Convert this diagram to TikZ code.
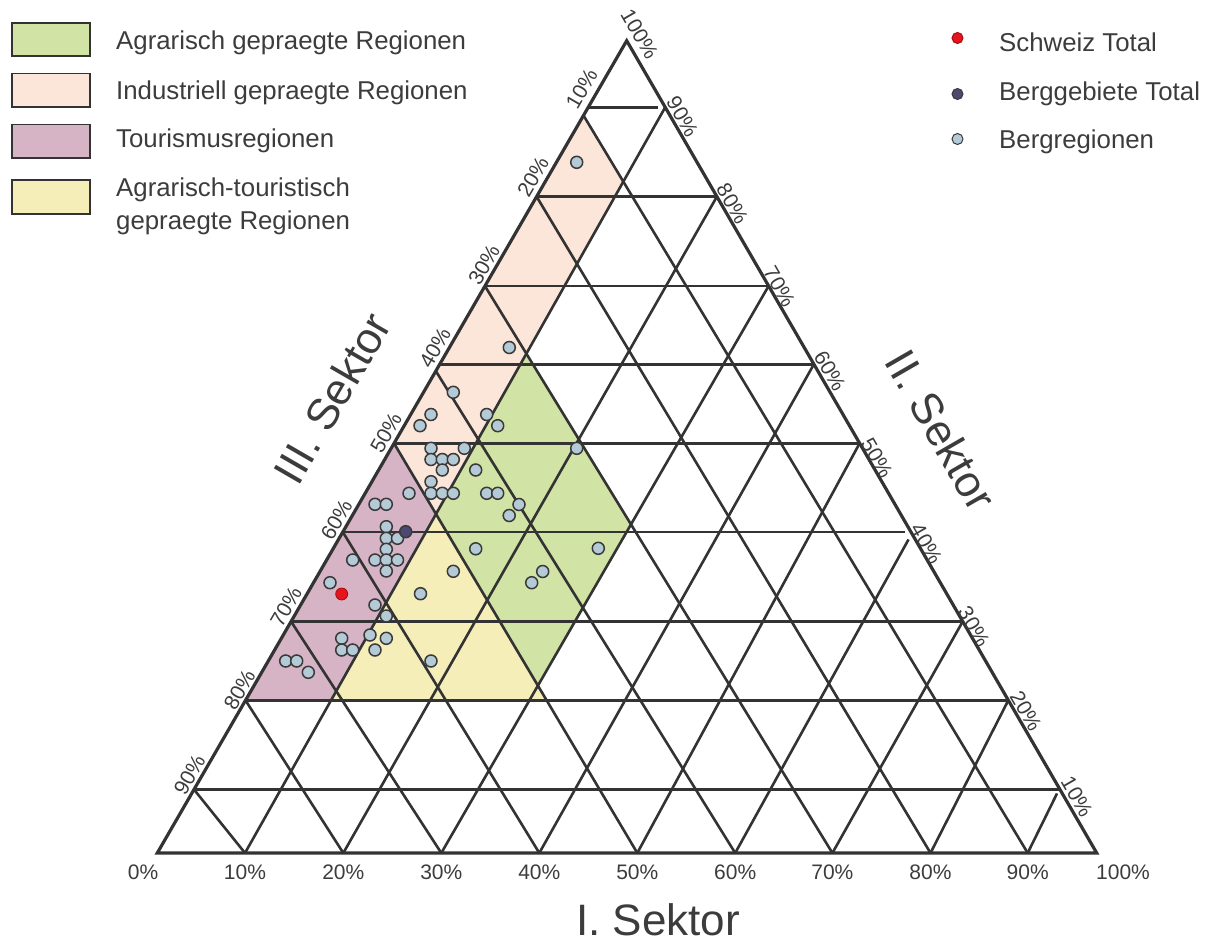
\documentclass[tikz,border=0pt]{standalone}
\usepackage{fontspec}
\setmainfont{Liberation Sans}
\definecolor{gridc}{HTML}{333333}
\definecolor{txtc}{HTML}{3C3C3C}
\definecolor{agr}{HTML}{D1E3A5}
\definecolor{ind}{HTML}{FCE6DA}
\definecolor{tou}{HTML}{D6B3C5}
\definecolor{agt}{HTML}{F5EEB9}
\definecolor{ptfill}{HTML}{B4CAD6}
\definecolor{ptline}{HTML}{3A3A3A}
\definecolor{chred}{HTML}{E8141C}
\definecolor{bgdark}{HTML}{4B4872}
\begin{document}
\begin{tikzpicture}[x=1pt,y=-1pt,
  gridline/.style={draw=gridc,line width=2.6pt,line cap=butt},
  edgeline/.style={draw=gridc,line width=3.2pt,line join=miter},
  pt/.style={circle,draw=ptline,fill=ptfill,line width=1.5pt,minimum size=12pt,inner sep=0pt},
  lbox/.style={draw=gridc,line width=1.8pt,minimum width=78.3pt,minimum height=33.5pt,inner sep=0pt},
  ltext/.style={text=txtc,font=\fontsize{25.8}{31}\selectfont,anchor=base west,inner sep=0pt},
  pct/.style={text=txtc,font=\fontsize{21}{24}\selectfont,inner sep=0pt},
  axt/.style={text=txtc,font=\fontsize{44}{50}\selectfont,inner sep=0pt},
  ldot/.style={circle,line width=1pt,minimum size=11pt,inner sep=0pt}]
\useasboundingbox (0,0) rectangle (1212,941);
% triangle corners and grid points
\coordinate (T) at (626.7,40.7);
\coordinate (B0) at (157.3,853);
\coordinate (B10) at (1096.7,853);
\foreach \i/\x in {1/245,2/343.3,3/441.3,4/539.3,5/637.3,6/735.2,7/832.4,8/930.5,9/1027.7}
  \coordinate (B\i) at (\x,853);
\foreach \i/\xl/\xr/\y in {1/194.0/1060.0/789.5,2/245.5/1008.3/700.3,3/291.1/962.7/621.5,
  4/342.8/911.0/532,5/394.0/859.6/443.3,6/439.7/813.9/364.2,7/484.9/768.6/286,
  8/536.6/716.9/196.6,9/588.2/665.2/107.3}{
  \coordinate (L\i) at (\xl,\y);
  \coordinate (R\i) at (\xr,\y);
}
\coordinate (L9s) at (583.5,115.5);
\coordinate (L6s) at (435.8,371);
\coordinate (H9e) at (658.3,107.3);
\coordinate (H4e) at (905,532);
\coordinate (U6e) at (908.5,539.5);
\coordinate (U9e) at (1057,793.5);
% region vertices
\coordinate (pA) at (intersection of L9s--B9 and B1--R9);
\coordinate (pB) at (intersection of B1--R9 and L5--B5);
\coordinate (pC) at (intersection of B1--R9 and L2--R2);
\coordinate (gA) at (intersection of B1--R9 and L7--B7);
\coordinate (gB) at (intersection of L7--B7 and B3--R7);
\coordinate (gC) at (intersection of B3--R7 and L5--B5);
\coordinate (yB) at (intersection of L5--B5 and L2--R2);
% fills
\fill[ind] (L9s) -- (pA) -- (pB) -- (L5) -- cycle;
\fill[tou] (L5) -- (pB) -- (pC) -- (L2) -- cycle;
\fill[agr] (gA) -- (gB) -- (gC) -- (pB) -- cycle;
\fill[agt] (pB) -- (yB) -- (pC) -- cycle;
% horizontal lines
\foreach \i in {1,2,3,5,6,7,8} \draw[gridline] (L\i) -- (R\i);
\draw[gridline] (L4) -- (H4e);
\draw[gridline] (L9) -- (H9e);
% down-right lines
\foreach \i in {1,2,3,4,5,7,8} \draw[gridline] (L\i) -- (B\i);
\draw[gridline] (L6s) -- (B6);
\draw[gridline] (L9s) -- (B9);
% up-right lines
\foreach \i/\j in {1/9,2/8,3/7,4/6,5/5,7/3,8/2} \draw[gridline] (B\i) -- (R\j);
\draw[gridline] (B6) -- (U6e);
\draw[gridline] (B9) -- (U9e);
% outline
\draw[edgeline] (B0) -- (T) -- (B10) -- cycle;
% data points
\foreach \x/\y [count=\i] in {576.7/162.3, 509.3/347.5, 453.3/392.3, 431/414.5, 420/425.7,
  486.7/414.5, 497.7/425.7, 431/448.3, 464.3/448.3, 576.7/448.3, 431/459.5, 442.3/459.5,
  453.3/459.5, 442.3/470, 475.7/470, 431/481.7, 409/493.3, 431/493.3, 442.3/493.3,
  453.3/493.3, 486.7/493.3, 497.7/493.3, 519/504.5, 509.2/515.5, 375/504.3, 386.3/504.3,
  386.3/526.7, 386.3/538.3, 397.5/538.3, 386.3/549.3, 475.7/548.8, 598.3/548.3, 352.7/560,
  375/560, 386.3/560, 397.5/560, 386.3/571, 453.3/571.3, 542.7/571.5, 531.7/582.7,
  330/582.7, 420.5/593.7, 375/605, 386.3/616, 370/635, 341.7/638.3, 386.3/638.3,
  341.7/650, 352.7/650, 375/650, 285.7/661, 296.7/661, 308.3/672.3, 431/661}
  \node[pt] (p\i) at (\x,\y) {};
\node[pt,fill=bgdark] (pberg) at (405.7,531.7) {};
\node[pt,fill=chred,draw=chred!70!black,line width=0.8pt] (pch) at (341.7,594) {};
% bottom labels
\foreach \x/\t [count=\i] in {143/0,245/10,343.3/20,441.3/30,539.3/40,637.3/50,735.2/60,832.4/70,930.5/80,1027.7/90,1123/100}
  \node[pct,anchor=base] (bl\i) at (\x,879.5) {\t\%};
% left labels (III. Sektor)
\foreach \x/\y/\t [count=\i] in {581.7/89/10,533/177/20,484/265/30,435/348/40,386/433/50,
  336.5/519.5/60,286/606.5/70,239.5/689.5/80,189.5/774.5/90}
  \node[pct,rotate=60] (ll\i) at (\x,\y) {\t\%};
% right labels (II. Sektor)
\foreach \x/\y/\t [count=\i] in {682.5/116.5/90,732.5/203.5/80,779.5/286.5/70,830/371/60,
  877/458/50,926.5/543.5/40,974/626.5/30,1026/711/20,1077/796.5/10}
  \node[pct,rotate=-60] (rl\i) at (\x,\y) {\t\%};
\node[pct,rotate=-60] (top100) at (639.5,34) {100\%};
% axis titles
\node[axt,anchor=base] (ax1) at (658,935.5) {I. Sektor};
\node[axt,rotate=60] (ax3) at (332,398) {III. Sektor};
\node[axt,rotate=-60] (ax2) at (941,430) {II. Sektor};
% legend left
\node[lbox,fill=agr] (lg1) at (50.85,39.4) {};
\node[lbox,fill=ind] (lg2) at (50.85,90.3) {};
\node[lbox,fill=tou] (lg3) at (50.85,141.3) {};
\node[lbox,fill=agt] (lg4) at (50.85,197) {};
\node[ltext] (lt1) at (116,50) {Agrarisch gepraegte Regionen};
\node[ltext] (lt2) at (116,99.3) {Industriell gepraegte Regionen};
\node[ltext] (lt3) at (116,147.7) {Tourismusregionen};
\node[ltext] (lt4) at (116,196.7) {Agrarisch-touristisch};
\node[ltext] (lt5) at (116,230) {gepraegte Regionen};
% legend right
\node[ldot,fill=chred,draw=chred!70!black] (ld1) at (957.5,38) {};
\node[ldot,fill=bgdark,draw=ptline] (ld2) at (957.5,94) {};
\node[ldot,fill=ptfill,draw=ptline] (ld3) at (957.5,139) {};
\node[ltext] (rt1) at (999,52) {Schweiz Total};
\node[ltext] (rt2) at (999,101) {Berggebiete Total};
\node[ltext] (rt3) at (999,149) {Bergregionen};
\end{tikzpicture}
\end{document}
